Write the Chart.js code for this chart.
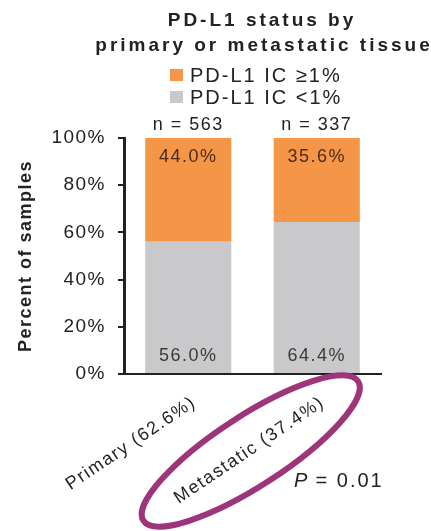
<!DOCTYPE html>
<html>
<head>
<meta charset="utf-8">
<script src="https://cdn.jsdelivr.net/npm/chart.js@4.4.1/dist/chart.umd.min.js"></script>
<style>
  html, body { margin: 0; padding: 0; background: #fff; }
  #wrap { width: 431px; height: 531px; }
</style>
</head>
<body>
<div id="wrap"><canvas id="c" width="431" height="531"></canvas></div>
<script>
// PD-L1 immune-cell status, primary vs metastatic tissue
const categories = ['Primary (62.6%)', 'Metastatic (37.4%)'];
const sampleCounts = [563, 337];
const icBelow1 = [56.0, 64.4];      // PD-L1 IC <1%
const icAtLeast1 = [44.0, 35.6];    // PD-L1 IC >=1%
const yTicks = [0, 20, 40, 60, 80, 100];
const titleLines = ['PD-L1 status by', 'primary or metastatic tissue'];
const seriesNames = ['PD-L1 IC \u22651%', 'PD-L1 IC <1%'];
const pValue = '0.01';

const FONT = "'Liberation Sans', Arial, Helvetica, sans-serif";
const ORANGE = '#f59548';
const GREY = '#c9c9cb';
const INK = '#222222';

// Wide tracking for all canvas text
const tracking = {
  id: 'tracking',
  beforeUpdate(chart) { chart.ctx.letterSpacing = '1.5px'; },
  beforeDraw(chart) { chart.ctx.letterSpacing = '1.5px'; }
};

function text(ctx, str, x, y, opts) {
  ctx.save();
  ctx.font = opts.font;
  ctx.fillStyle = opts.color || INK;
  ctx.textAlign = opts.align || 'center';
  ctx.textBaseline = 'alphabetic';
  ctx.letterSpacing = opts.spacing || '1.5px';
  ctx.fillText(str, x, y);
  ctx.restore();
}

const decorations = {
  id: 'decorations',
  afterDraw(chart) {
    const ctx = chart.ctx;
    const area = chart.chartArea;
    const xs = chart.scales.x;

    // Title
    text(ctx, titleLines[0], 262, 26, { font: 'bold 19px ' + FONT, spacing: '3px' });
    text(ctx, titleLines[1], 264, 51, { font: 'bold 19px ' + FONT, spacing: '3px' });

    // Legend (top-to-bottom: orange, grey)
    const legendColors = [ORANGE, GREY];
    [82, 104].forEach((y, i) => {
      ctx.fillStyle = legendColors[i];
      ctx.fillRect(170, y - 13, 13, 12);
      text(ctx, seriesNames[i], 190, y, { font: '20px ' + FONT, align: 'left', spacing: '2px' });
    });

    // Sample counts above bars and percentage labels inside segments
    const grey = chart.getDatasetMeta(0).data;
    const orange = chart.getDatasetMeta(1).data;
    categories.forEach((c, i) => {
      const x = grey[i].x;
      text(ctx, 'n = ' + sampleCounts[i], x, area.top - 8, { font: '18px ' + FONT });
      text(ctx, icAtLeast1[i].toFixed(1) + '%', x, orange[i].y + 24, { font: '18px ' + FONT, color: '#4a2c1c' });
      text(ctx, icBelow1[i].toFixed(1) + '%', x, area.bottom - 13, { font: '18px ' + FONT, color: '#3a3a3a' });
    });

    // P value
    ctx.save();
    ctx.font = 'italic 20px ' + FONT;
    ctx.letterSpacing = '2px';
    ctx.fillStyle = INK;
    ctx.textBaseline = 'alphabetic';
    ctx.textAlign = 'left';
    ctx.fillText('P', 294, 487);
    ctx.font = '20px ' + FONT;
    ctx.fillText(' = ' + pValue, 308, 487);
    ctx.restore();

    // Highlight ring around the metastatic label
    const mx = xs.getPixelForValue(1);
    ctx.save();
    ctx.translate(mx - 66, area.bottom + 77);
    ctx.rotate(-33 * Math.PI / 180);
    ctx.beginPath();
    ctx.ellipse(0, 0, 128, 35, 0, 0, Math.PI * 2);
    ctx.lineWidth = 6;
    ctx.strokeStyle = '#9c3579';
    ctx.stroke();
    ctx.restore();
  }
};

new Chart(document.getElementById('c'), {
  type: 'bar',
  data: {
    labels: categories,
    datasets: [
      { label: seriesNames[1], data: icBelow1, backgroundColor: GREY, borderWidth: 0 },
      { label: seriesNames[0], data: icAtLeast1, backgroundColor: ORANGE, borderWidth: 0 }
    ]
  },
  options: {
    responsive: false,
    animation: false,
    devicePixelRatio: 1,
    layout: { padding: { top: 138, right: 50, left: 0, bottom: 0 } },
    datasets: { bar: { categoryPercentage: 0.67, barPercentage: 1 } },
    plugins: {
      legend: { display: false },
      title: { display: false },
      tooltip: { enabled: false }
    },
    scales: {
      x: {
        stacked: true,
        grid: { display: false, drawTicks: false },
        border: { display: true, color: INK, width: 2 },
        ticks: {
          autoSkip: false,
          minRotation: 34,
          maxRotation: 34,
          padding: 18,
          labelOffset: 6,
          color: INK,
          font: { family: FONT, size: 18 }
        },
        afterFit(scale) { scale.height = 157; }
      },
      y: {
        stacked: true,
        min: 0,
        max: 100,
        grid: { drawOnChartArea: false, drawTicks: true, tickLength: 6, color: INK, lineWidth: 2 },
        border: { display: true, color: INK, width: 3 },
        afterBuildTicks(scale) { scale.ticks = yTicks.map(v => ({ value: v })); },
        ticks: {
          padding: 12,
          color: INK,
          font: { family: FONT, size: 19 },
          callback: v => v + '%'
        },
        title: {
          display: true,
          text: 'Percent of samples',
          color: INK,
          font: { family: FONT, size: 18, weight: 'bold' },
          padding: { top: 15, bottom: 0 }
        },
        afterFit(scale) { scale.width = 124; }
      }
    }
  },
  plugins: [tracking, decorations]
});
</script>
</body>
</html>
